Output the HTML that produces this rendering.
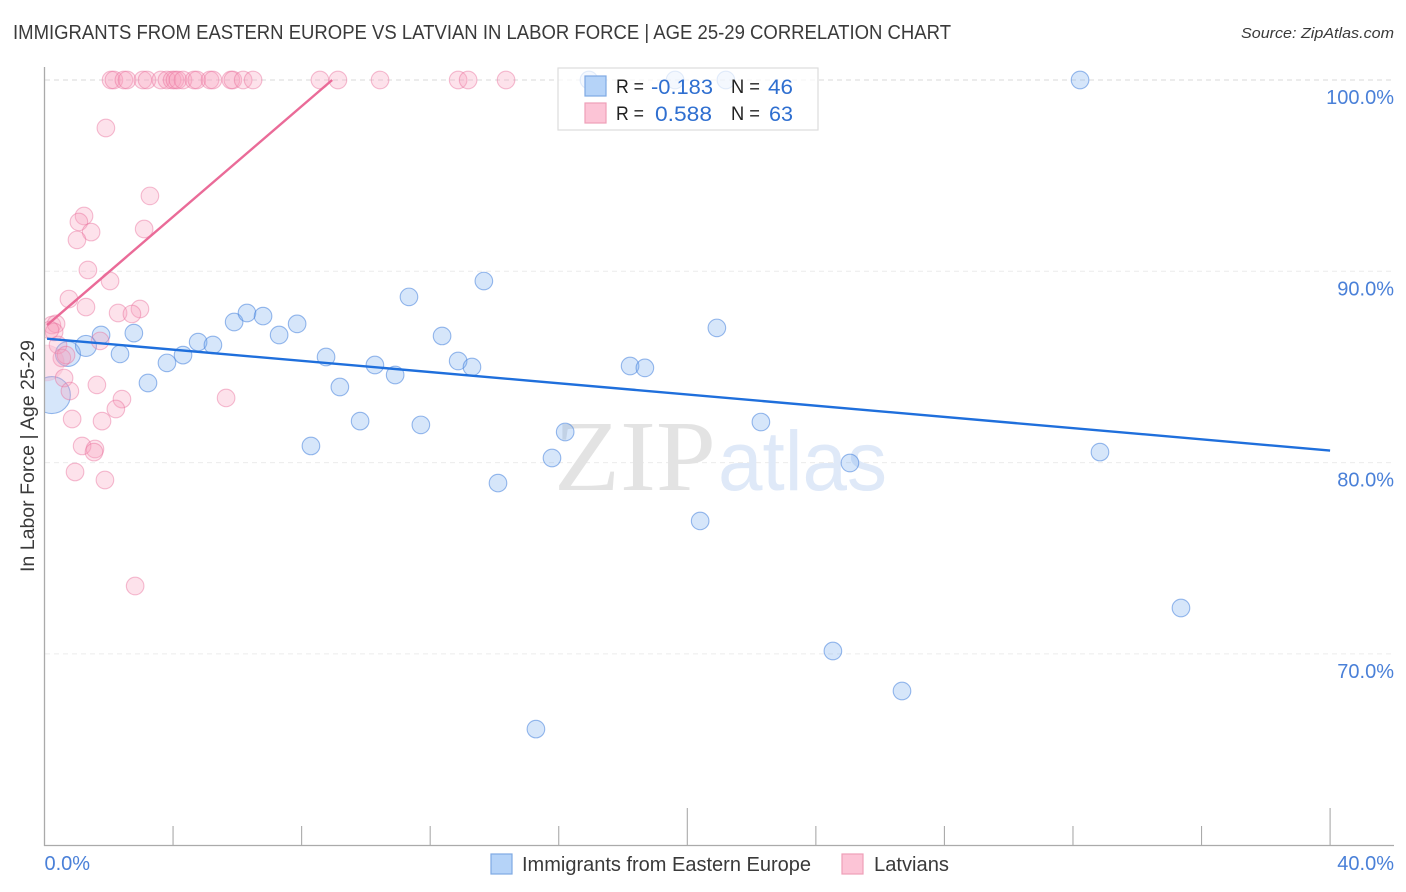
<!DOCTYPE html>
<html lang="en">
<head>
<meta charset="utf-8">
<title>Immigrants from Eastern Europe vs Latvian in Labor Force Correlation Chart</title>
<style>
html,body{margin:0;padding:0;background:#fff;width:1406px;height:892px;overflow:hidden}
svg{display:block}
text{font-family:"Liberation Sans",sans-serif}
</style>
</head>
<body>
<svg id="chart" xmlns="http://www.w3.org/2000/svg" width="1406" height="892" viewBox="0 0 1406 892">
  <defs><clipPath id="plot-clip"><rect x="45" y="60" width="1349" height="785"/></clipPath></defs>
  <rect width="1406" height="892" fill="#fff"/>
  <text x="13" y="39" font-size="20" fill="#3a3a3a" textLength="938" lengthAdjust="spacingAndGlyphs">IMMIGRANTS FROM EASTERN EUROPE VS LATVIAN IN LABOR FORCE | AGE 25-29 CORRELATION CHART</text>
  <text x="1394" y="38" font-size="15" font-style="italic" fill="#3a3a3a" text-anchor="end" textLength="153" lengthAdjust="spacingAndGlyphs">Source: ZipAtlas.com</text>
  <g id="grid"></g>
  <g>
    <text x="554" y="490" font-size="101" style="font-family:'Liberation Serif',serif" font-weight="400" fill="#e3e3e3" textLength="162" lengthAdjust="spacingAndGlyphs">ZIP</text>
    <text x="718" y="490" font-size="84" fill="#dfe9f8" textLength="169" lengthAdjust="spacingAndGlyphs">atlas</text>
  </g>
  <g id="blue-points" clip-path="url(#plot-clip)"></g>
  <g id="pink-points" clip-path="url(#plot-clip)"></g>
  <g id="trends"></g>
  <g id="axes">
    <line x1="44.5" y1="67" x2="44.5" y2="846" stroke="#aaa" stroke-width="1.3"/>
    <line x1="44" y1="845.5" x2="1394" y2="845.5" stroke="#aaa" stroke-width="1.3"/>
  </g>
  <text transform="translate(34,572) rotate(-90)" font-size="19.5" fill="#3a3a3a" textLength="232" lengthAdjust="spacingAndGlyphs">In Labor Force | Age 25-29</text>
  <g>
    <rect x="558" y="68" width="260" height="62" fill="#fff" fill-opacity="0.72" stroke="#ddd" stroke-width="1.2"/>
    <rect x="585" y="76" width="21" height="20" fill="#b5d3f8" stroke="#7fa9e3" stroke-width="1.2"/>
    <rect x="585" y="103" width="21" height="20" fill="#fcc4d6" stroke="#ee9fb8" stroke-width="1.2"/>
    <text x="616" y="93" font-size="19.5" fill="#222" textLength="28" lengthAdjust="spacingAndGlyphs">R =</text>
    <text x="651" y="94" font-size="21.5" fill="#2f6fd0" textLength="62" lengthAdjust="spacingAndGlyphs">-0.183</text>
    <text x="731" y="93" font-size="19.5" fill="#222" textLength="29" lengthAdjust="spacingAndGlyphs">N =</text>
    <text x="768" y="94" font-size="21.5" fill="#2f6fd0" textLength="25" lengthAdjust="spacingAndGlyphs">46</text>
    <text x="616" y="120" font-size="19.5" fill="#222" textLength="28" lengthAdjust="spacingAndGlyphs">R =</text>
    <text x="655" y="121" font-size="21.5" fill="#2f6fd0" textLength="57" lengthAdjust="spacingAndGlyphs">0.588</text>
    <text x="731" y="120" font-size="19.5" fill="#222" textLength="29" lengthAdjust="spacingAndGlyphs">N =</text>
    <text x="769" y="121" font-size="21.5" fill="#2f6fd0" textLength="24" lengthAdjust="spacingAndGlyphs">63</text>
  </g>
  <g>
    <rect x="491" y="854" width="21" height="20" fill="#b5d3f8" stroke="#7fa9e3" stroke-width="1.2"/>
    <text x="522" y="871" font-size="20" fill="#3a3a3a" textLength="289" lengthAdjust="spacingAndGlyphs">Immigrants from Eastern Europe</text>
    <rect x="842" y="854" width="21" height="20" fill="#fcc4d6" stroke="#ee9fb8" stroke-width="1.2"/>
    <text x="874" y="871" font-size="20" fill="#3a3a3a" textLength="75" lengthAdjust="spacingAndGlyphs">Latvians</text>
  </g>
</svg>
<script>
const yTickValues = [100, 90, 80, 70];
const yTickLabels = ["100.0%", "90.0%", "80.0%", "70.0%"];
const xTickValues = [0, 4, 8, 12, 16, 20, 24, 28, 32, 36, 40];
const xEndValues = [0, 40];
const xEndLabels = ["0.0%", "40.0%"];

const blueX = [0.23,0.73,1.29,1.76,2.35,2.78,3.22,3.81,4.31,4.78,5.24,5.90,6.30,6.80,7.30,7.86,8.29,8.76,9.19,9.82,10.28,10.91,11.34,11.71,12.37,12.87,13.30,13.67,14.11,15.29,15.79,16.20,16.94,18.22,18.68,19.62,20.40,20.92,21.20,22.29,24.53,25.06,26.68,32.22,32.84,35.36];
const blueY = [83.53,85.68,86.10,86.67,85.68,86.77,84.16,85.21,85.62,86.30,86.15,87.35,87.82,87.66,86.67,87.25,80.87,85.52,83.95,82.17,85.10,84.58,88.66,81.97,86.62,85.31,85.00,89.49,78.93,66.07,80.24,81.60,100,85.05,84.95,100,76.95,87.04,100,82.12,70.15,79.98,68.06,100,80.55,72.40];

const pinkX = [2.07,2.16,2.47,2.57,3.06,3.19,3.62,3.81,3.97,4.06,4.15,4.31,4.65,4.74,5.15,5.24,5.80,5.86,6.18,6.49,8.57,9.13,10.44,12.87,13.18,14.36,1.91,3.28,1.23,1.07,1.45,1.01,3.10,1.35,2.04,0.76,1.29,2.97,2.29,2.72,0.23,0.36,0.30,0.42,1.73,0.54,0.67,0.05,0.61,0.79,1.63,2.41,2.22,5.65,0.86,1.79,1.17,1.57,1.54,0.95,1.88,2.82,0.17];
const pinkY = [100,100,100,100,100,100,100,100,100,100,100,100,100,100,100,100,100,100,100,100,100,100,100,100,100,100,97.49,93.94,92.89,92.58,92.05,91.64,92.21,90.07,89.49,88.55,88.13,88.03,87.82,87.77,87.19,87.25,86.83,86.15,86.36,85.47,85.62,85.21,84.42,83.74,84.06,83.32,82.80,83.38,82.28,82.17,80.87,80.71,80.55,79.51,79.09,73.55,86.93];

const blueTrendX = [0.08, 40];
const blueTrendY = [86.48, 80.63];
const pinkTrendX = [0.08, 8.95];
const pinkTrendY = [87.19, 100];

function xScale(v) { return 44.5 + v * 32.14; }
function yScale(v) { return 80 + (100 - v) * 19.13; }

const NS = 'http://www.w3.org/2000/svg';
function make(tag, parentId, attrs) {
  const el = document.createElementNS(NS, tag);
  for (const k in attrs) el.setAttribute(k, attrs[k]);
  document.getElementById(parentId).appendChild(el);
  return el;
}

yTickValues.forEach(function (v, i) {
  const line = make('line', 'grid', { x1: 45, x2: 1394, y1: yScale(v), y2: yScale(v), stroke: i === 0 ? '#dadada' : '#ececec', 'stroke-width': 1, 'stroke-dasharray': '5 4' });
  
  
  const label = make('text', 'axes', { x: 1394, y: yScale(v) + 24, 'font-size': 20, fill: '#4a80d8', 'text-anchor': 'end' });
  label.textContent = yTickLabels[i];
  
  
});

xTickValues.forEach(function (v, i) {
  if (i === 0) return;
  const major = (i === 5 || i === 10);
  const tick = make('line', 'axes', { x1: xScale(v), x2: xScale(v), y1: major ? 808 : 826, y2: 846, stroke: '#aaa', 'stroke-width': 1.1 });
  
  
});

xEndValues.forEach(function (v, i) {
  const label = make('text', 'axes', { x: i === 0 ? xScale(v) : 1394, y: 870, 'font-size': 20, fill: '#4a80d8', 'text-anchor': i === 0 ? 'start' : 'end' });
  label.textContent = xEndLabels[i];
  
  
});

function blueRadius(i) { return i === 0 ? 18.5 : i === 1 ? 12.5 : i === 2 ? 10.5 : 8.8; }
function pinkRadius(i) { return i === 47 ? 18 : 8.8; }

blueX.forEach(function (v, i) {
  const c = make('circle', 'blue-points', { cx: xScale(v), cy: yScale(blueY[i]), r: blueRadius(i), fill: 'rgba(120,172,238,0.3)', stroke: 'rgba(70,130,220,0.55)', 'stroke-width': 1.1 });
  
  
});

pinkX.forEach(function (v, i) {
  const c = make('circle', 'pink-points', { cx: xScale(v), cy: yScale(pinkY[i]), r: pinkRadius(i), fill: 'rgba(248,160,190,0.3)', stroke: i === 47 ? 'rgba(232,110,155,0.12)' : 'rgba(232,110,155,0.45)', 'stroke-width': 1.1 });
  
  
});

const blueTrend = make('line', 'trends', { x1: xScale(blueTrendX[0]), y1: yScale(blueTrendY[0]), x2: xScale(blueTrendX[1]), y2: yScale(blueTrendY[1]), stroke: '#1f6fdc', 'stroke-width': 2.4 });



const pinkTrend = make('line', 'trends', { x1: xScale(pinkTrendX[0]), y1: yScale(pinkTrendY[0]), x2: xScale(pinkTrendX[1]), y2: yScale(pinkTrendY[1]), stroke: '#ea6b98', 'stroke-width': 2.4 });


</script>
</body>
</html>
